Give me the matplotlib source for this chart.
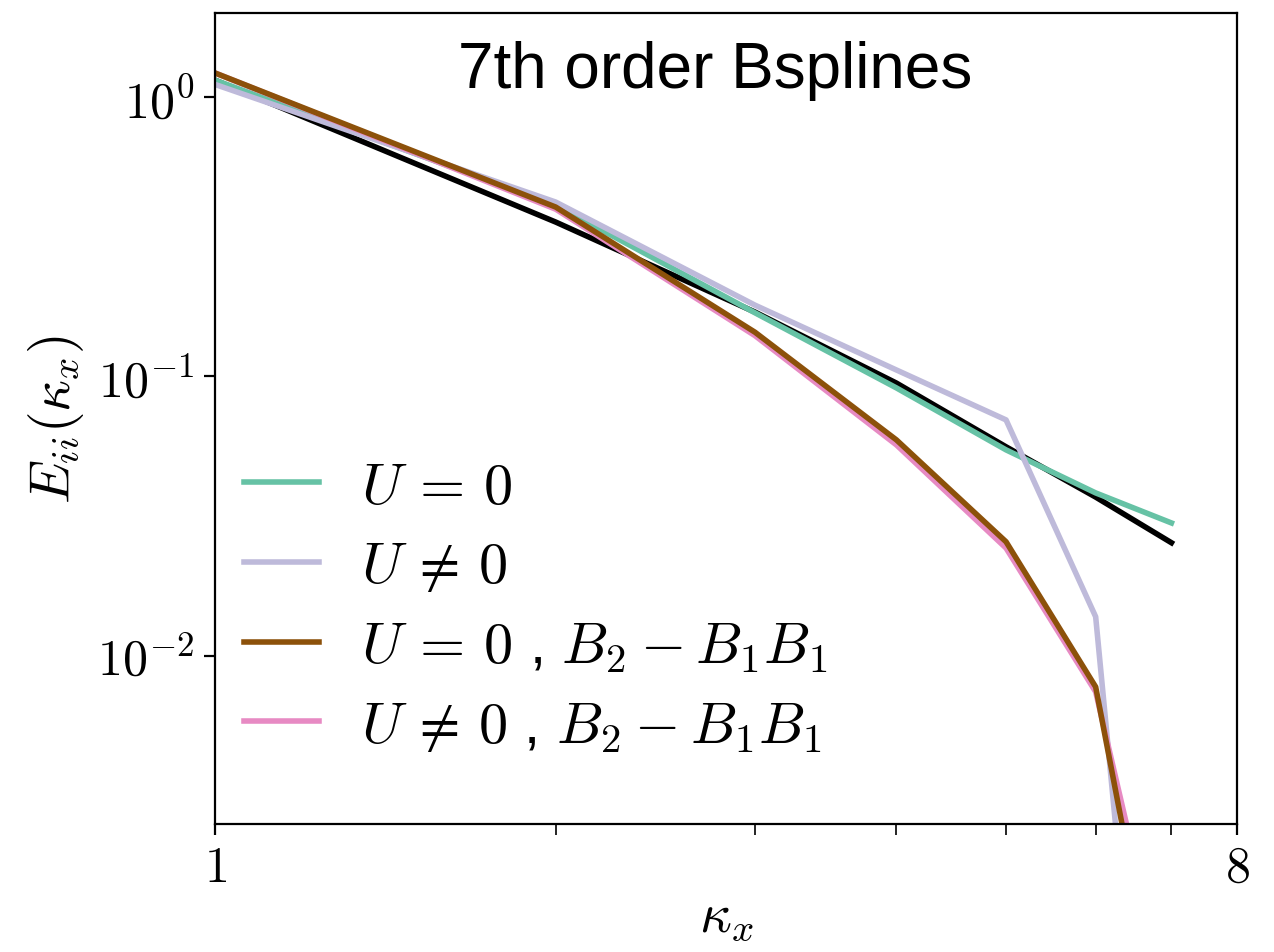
import matplotlib
matplotlib.use("Agg")
import matplotlib.pyplot as plt
from matplotlib.ticker import NullFormatter, NullLocator

plt.rcParams['font.family'] = ['Liberation Sans', 'DejaVu Sans']
plt.rcParams['mathtext.fontset'] = 'cm'

# wavenumbers
kx = [1, 2, 3, 4, 5, 6, 7]

# spectra
E_ref = [1.15, 0.357, 0.170, 0.0947, 0.056, 0.037, 0.0254]
E_u0 = [1.15, 0.41, 0.169, 0.091, 0.0546, 0.0383, 0.0299]
E_u1 = [1.11, 0.421, 0.180, 0.1055, 0.0699, 0.0138, 2.0e-5]
E_u0_b = [1.22, 0.404, 0.144, 0.0593, 0.0256, 0.00774, 3.0e-4]
E_u1_b = [1.22, 0.397, 0.140, 0.0569, 0.0243, 0.00743, 5.1e-4]

labels = [r'$U\,=\,0$', r'$U\,\neq\,0$', r'$U\,=\,0$ , $B_2-B_1B_1$', r'$U\,\neq\,0$ , $B_2-B_1B_1$']
colors = ['#66c2a5', '#bebada', '#8c510a', '#e78ac3']

fig = plt.figure(figsize=(6.37, 4.765), dpi=200)
ax = fig.add_axes([0.1688, 0.1343, 0.8022, 0.851])

ax.plot(kx, E_ref, color='k', lw=2)
ax.plot(kx, E_u0, color=colors[0], lw=2, label=labels[0])
ax.plot(kx, E_u1, color=colors[1], lw=2, label=labels[1])
ax.plot(kx, E_u1_b, color=colors[3], lw=2, label=labels[3], zorder=2.1)
ax.plot(kx, E_u0_b, color=colors[2], lw=2, label=labels[2], zorder=2.2)

ax.set_xscale('log')
ax.set_yscale('log')
ax.set_xlim(1, 8)
ax.set_ylim(2.5e-3, 2.0)

ax.set_xticks([1, 8], [r'$1$', r'$8$'])
ax.set_xticks([2, 3, 4, 5, 6, 7], minor=True)
ax.xaxis.set_minor_formatter(NullFormatter())
ax.set_yticks([1, 0.1, 0.01], [r'$10^{0}$', r'$10^{-1}$', r'$10^{-2}$'])
ax.yaxis.set_minor_locator(NullLocator())
ax.tick_params(labelsize=18, length=4)
ax.tick_params(which='minor', length=4)

ax.set_xlabel(r'$\kappa_x$', fontsize=20, labelpad=0)
ax.set_ylabel(r'$E_{ii}(\kappa_x)$', fontsize=20)

ax.text(0.489, 0.93, '7th order Bsplines', transform=ax.transAxes,
        ha='center', va='center', fontsize=23)

h, l = ax.get_legend_handles_labels()
order = [0, 1, 3, 2]
ax.legend([h[i] for i in order], [l[i] for i in order], loc='lower left',
          fontsize=21, frameon=False, handlelength=1.29, handletextpad=0.72,
          labelspacing=0.44, bbox_to_anchor=(-0.023, 0.022))

fig.savefig('out.png', dpi=200)
